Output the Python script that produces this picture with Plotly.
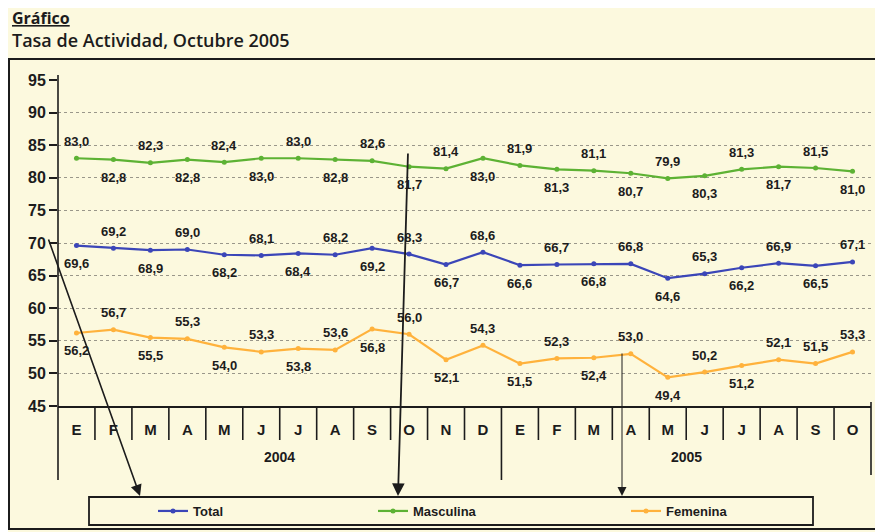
import plotly.graph_objects as go

# ---------------- data ----------------
months = ["E", "F", "M", "A", "M", "J", "J", "A", "S", "O", "N", "D",
          "E", "F", "M", "A", "M", "J", "J", "A", "S", "O"]
years = ["2004", "2005"]

total = [69.6, 69.2, 68.9, 69.0, 68.2, 68.1, 68.4, 68.2, 69.2, 68.3, 66.7, 68.6,
         66.6, 66.7, 66.8, 66.8, 64.6, 65.3, 66.2, 66.9, 66.5, 67.1]
masculina = [83.0, 82.8, 82.3, 82.8, 82.4, 83.0, 83.0, 82.8, 82.6, 81.7, 81.4, 83.0,
             81.9, 81.3, 81.1, 80.7, 79.9, 80.3, 81.3, 81.7, 81.5, 81.0]
femenina = [56.2, 56.7, 55.5, 55.3, 54.0, 53.3, 53.8, 53.6, 56.8, 56.0, 52.1, 54.3,
            51.5, 52.3, 52.4, 53.0, 49.4, 50.2, 51.2, 52.1, 51.5, 53.3]

# ---------------- styling ----------------
BG = "#FCF9DE"
INK = "#1c1c1c"
FONT = "Liberation Sans Narrow, Arial Narrow, Liberation Sans, Arial, sans-serif"
TFONT = "Open Sans, Liberation Sans, sans-serif"
C_TOTAL = "#3B46B8"
C_MASC = "#5DB234"
C_FEM = "#FFB23C"

WIN_W, WIN_H = 883, 532
OFF = 8  # page body margin
L, R, T, B = 58, 871, 80, 406  # plot area in screen pixels


def px(x):
    return (x - L) / (R - L)


def py(y):
    return (B - y) / (B - T)


xs = list(range(len(months)))

fig = go.Figure()
series = [("Total", total, C_TOTAL, "legend"),
          ("Masculina", masculina, C_MASC, "legend2"),
          ("Femenina", femenina, C_FEM, "legend3")]
for name, vals, col, lg in series:
    fig.add_trace(go.Scatter(
        x=xs, y=vals, name=name, mode="lines+markers",
        line=dict(color=col, width=2.2),
        marker=dict(color=col, size=5),
        legend=lg, hoverinfo="skip"))

# label sides (+1 above, -1 below)
side_masc = [1 if i % 2 == 0 else -1 for i in xs]
side_total = [-1 if i % 2 == 0 else 1 for i in xs]
side_fem = [-1 if i % 2 == 0 else 1 for i in xs]
side_fem[20] = 1

annotations = []
for vals, sides in [(masculina, side_masc), (total, side_total), (femenina, side_fem)]:
    for i, (v, s) in enumerate(zip(vals, sides)):
        annotations.append(dict(
            x=i, y=v, xref="x", yref="y",
            text="<b>" + f"{v:.1f}".replace(".", ",") + "</b>",
            showarrow=False, yshift=17 if s > 0 else -18,
            font=dict(family=FONT, size=13, color=INK)))

# year labels
annotations.append(dict(x=5.5, y=py(467), xref="x", yref="paper", text="<b>" + years[0] + "</b>",
                        showarrow=False, font=dict(family=FONT, size=14, color=INK)))
annotations.append(dict(x=16.5, y=py(467), xref="x", yref="paper", text="<b>" + years[1] + "</b>",
                        showarrow=False, font=dict(family=FONT, size=14, color=INK)))

# titles
annotations.append(dict(x=px(10), y=py(18), xref="paper", yref="paper",
                        xanchor="left", yanchor="middle", showarrow=False,
                        text="<u>Gráfico</u>",
                        font=dict(family=TFONT, size=16, color=INK, weight="bold")))
annotations.append(dict(x=px(10), y=py(40), xanchor="left", yanchor="middle",
                        xref="paper", yref="paper", showarrow=False,
                        text="Tasa de Actividad, Octubre 2005",
                        font=dict(family=TFONT, size=18, color=INK, weight=600)))

# hand-drawn arrows
for (hx, hy, tx, ty, w) in [(140, 496, 48, 238, 1.6), (398, 496, 408, 152, 1.8), (622, 496, 622, 352, 1.0)]:
    annotations.append(dict(x=px(hx), y=py(hy), xref="paper", yref="paper",
                            ax=tx - hx, ay=ty - hy, axref="pixel", ayref="pixel",
                            showarrow=True, arrowhead=2, arrowsize=1.4 if w > 1.2 else 1.8,
                            arrowwidth=w, arrowcolor=INK, text=""))

shapes = []
# month separators
for i in range(1, len(months)):
    y_end = py(480) if i == 12 else py(440)
    shapes.append(dict(type="line", xref="x", yref="paper", x0=i - 0.5, x1=i - 0.5,
                       y0=0, y1=y_end, line=dict(color=INK, width=1.6)))
# left and right table borders
shapes.append(dict(type="line", xref="paper", yref="paper", x0=0, x1=0,
                   y0=py(480), y1=py(75), line=dict(color=INK, width=1.6)))
shapes.append(dict(type="line", xref="paper", yref="paper", x0=1, x1=1,
                   y0=py(475), y1=py(402), line=dict(color=INK, width=1.6)))
# legend box
shapes.append(dict(type="rect", xref="paper", yref="paper", x0=px(89), x1=px(813),
                   y0=py(525), y1=py(497), line=dict(color=INK, width=1.8)))
# outer frame
shapes.append(dict(type="rect", xref="paper", yref="paper", x0=px(9), x1=px(878),
                   y0=py(529), y1=py(59), line=dict(color=INK, width=2)))

legend_common = dict(orientation="h", xanchor="left", yanchor="middle",
                     bgcolor="rgba(0,0,0,0)", borderwidth=0,
                     font=dict(family=FONT, size=13, color=INK, weight="bold"), itemwidth=30)

fig.update_layout(
    width=WIN_W - OFF, height=WIN_H - OFF,
    margin=dict(l=L - OFF, r=WIN_W - R, t=T - OFF, b=WIN_H - B, autoexpand=False),
    paper_bgcolor=BG, plot_bgcolor=BG,
    font=dict(family=FONT, color=INK),
    shapes=shapes, annotations=annotations,
    legend=dict(x=px(153), y=py(511), **legend_common),
    legend2=dict(x=px(373), y=py(511), **legend_common),
    legend3=dict(x=px(626), y=py(511), **legend_common),
    xaxis=dict(range=[-0.5, len(months) - 0.5], tickmode="array", tickvals=xs,
               ticktext=["<b>" + m + "</b>" for m in months],
               showgrid=False, zeroline=False, showline=True, linecolor=INK, linewidth=2,
               ticks="", ticklabelstandoff=9,
               tickfont=dict(family=FONT, size=15, color=INK)),
    yaxis=dict(range=[45, 95], dtick=5, showgrid=True, gridcolor="#9a978a",
               griddash="dot", gridwidth=1, zeroline=False, showline=False,
               ticks="outside", ticklen=8,
               tickcolor=INK, tickwidth=1.6,
               tickfont=dict(family=FONT, size=16, color=INK, weight="bold")),
    showlegend=True,
)

fig.write_html("out.html")
